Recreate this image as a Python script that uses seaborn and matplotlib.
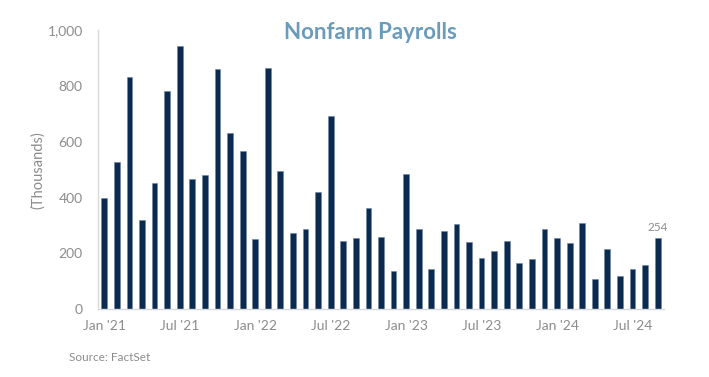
import pandas as pd
import matplotlib
matplotlib.use("Agg")
import matplotlib.pyplot as plt
import seaborn as sns

# Monthly nonfarm payroll changes (thousands), Jan 2021 - Sep 2024
months = pd.date_range("2021-01-01", "2024-09-01", freq="MS")
payrolls = [
    398, 527, 832, 319, 451, 780, 942, 465, 480, 862, 632, 568,
    251, 864, 494, 274, 286, 420, 692, 243, 255, 361, 258, 136,
    483, 287, 145, 279, 304, 240, 183, 210, 245, 164, 181, 289,
    255, 236, 310, 107, 215, 118, 143, 158, 254,
]
tick_labels = ["Jan '21", "Jul '21", "Jan '22", "Jul '22",
               "Jan '23", "Jul '23", "Jan '24", "Jul '24"]

df = pd.DataFrame({"Month": months.strftime("%Y-%m"), "Payrolls": payrolls})

sns.set_style("white")
plt.rcParams["font.family"] = ["Lato", "DejaVu Sans"]

grey = "#8c8c8c"
axis_col = "#d9d9d9"

fig = plt.figure(figsize=(7.09, 3.77), dpi=100)
ax = fig.add_axes([0.1382, 0.1796, 0.7983, 0.7408])

sns.barplot(data=df, x="Month", y="Payrolls", color="#0b2a50",
            saturation=1, width=0.46, edgecolor="#6f84a3", linewidth=0.4, ax=ax)

ax.set_xlim(-0.5, len(df) - 0.5)
ax.set_ylim(0, 1000)
ax.set_yticks(range(0, 1001, 200))
ax.set_yticklabels([f"{v:,}" for v in range(0, 1001, 200)])

label_pos = list(range(0, len(df), 6))
ax.set_xticks(label_pos)
ax.set_xticklabels(tick_labels)
ax.set_xticks([p - 0.5 for p in label_pos], minor=True)
ax.tick_params(axis="x", which="major", length=0, pad=8, labelsize=10, labelcolor=grey)
ax.tick_params(axis="x", which="minor", length=5, color=axis_col, width=1)
ax.tick_params(axis="y", length=5, color=axis_col, width=1, labelsize=10, labelcolor=grey, pad=6)

ax.set_xlabel("")
ax.set_ylabel("(Thousands)", color=grey, fontsize=10.5, labelpad=2)

for side in ["top", "right"]:
    ax.spines[side].set_visible(False)
for side in ["left", "bottom"]:
    ax.spines[side].set_color(axis_col)
    ax.spines[side].set_linewidth(1)

# label the latest month
ax.text(len(df) - 1, payrolls[-1] + 18, str(payrolls[-1]), ha="center", va="bottom",
        color=grey, fontsize=8.5)

fig.text(0.522, 0.915, "Nonfarm Payrolls", ha="center", va="center",
         fontsize=16, fontweight="bold", color="#6b9bbb")
fig.text(0.097, 0.052, "Source: FactSet", ha="left", va="center",
         fontsize=8.5, color=grey)

fig.savefig("out.png", dpi=100)
